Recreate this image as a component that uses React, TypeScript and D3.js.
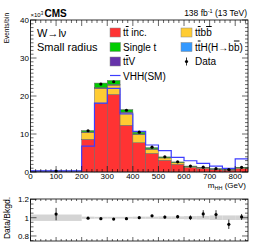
import React from 'react';
import * as d3 from 'd3';

// m_HH bin edges (GeV)
const binEdges = [0, 200, 250, 300, 350, 400, 450, 500, 550, 600, 650, 700, 750, 800, 850];
// Background contributions (x10^3 events / bin)
const ttInc = [0.17, 8.6, 18.1, 20.4, 12.3, 7.7, 4.9, 3.1, 2.05, 1.2, 0.9, 0.62, 0.5, 0.9];
const ttbb = [0.04, 1.85, 3.9, 2.45, 3.3, 2.2, 1.1, 0.6, 0.4, 0.22, 0.18, 0.13, 0.1, 0.18];
const ttV = [0.01, 0.06, 0.12, 0.12, 0.1, 0.08, 0.06, 0.04, 0.03, 0.02, 0.02, 0.02, 0.02, 0.02];
const ttH = [0.01, 0.04, 0.08, 0.08, 0.07, 0.05, 0.04, 0.03, 0.02, 0.02, 0.01, 0.01, 0.01, 0.02];
const singleT = [0.02, 0.35, 1.2, 1.05, 0.65, 0.45, 0.3, 0.2, 0.15, 0.1, 0.1, 0.07, 0.06, 0.1];
// VHH(SM) signal (scaled), x10^3
const signalVHH = [0.3, 6.8, 18.1, 22.0, 15.3, 10.7, 7.1, 5.6, 3.85, 2.96, 2.28, 1.57, 0.97, 3.48];
// Data (x10^3) and its uncertainty
const dataVals = [0.26, 10.85, 23.15, 23.75, 16.25, 10.48, 6.53, 4.0, 2.68, 1.56, 1.26, 0.88, 0.64, 1.23];
const dataErr = [0.017, 0.1, 0.15, 0.15, 0.13, 0.1, 0.08, 0.065, 0.05, 0.04, 0.05, 0.04, 0.035, 0.04];
// relative background uncertainty (ratio band)
const bkgRelUnc = [0.035, 0.012, 0.01, 0.01, 0.01, 0.012, 0.012, 0.015, 0.015, 0.018, 0.02, 0.025, 0.025, 0.025];

const xTicks = [0, 100, 200, 300, 400, 500, 600, 700, 800];
const yTicks = [0, 10, 20, 30, 40];
const ratioTicks = [0.8, 1, 1.2];

const keys = ['ttInc', 'ttbb', 'ttV', 'ttH', 'singleT'];
const colors: Record<string, string> = {
  ttInc: '#ff3333',
  ttbb: '#ffcc33',
  ttV: '#6633aa',
  ttH: '#3399ff',
  singleT: '#00cc00',
};
const sigColor = '#3d3dff';
const FONT = '"Liberation Sans", Arial, Helvetica, sans-serif';

export default function App() {
  const W = 258, H = 243;
  const L = 30.5, R = 248, T = 20, B = 172;
  const rT = 199, rB = 241;
  const x = d3.scaleLinear().domain([0, 850]).range([L, R]);
  const y = d3.scaleLinear().domain([0, 40]).range([B, T]);
  const yr = d3.scaleLinear().domain([0.745, 1.205]).range([rB, rT]);

  const rows = binEdges.slice(0, -1).map((_, i) => ({
    ttInc: ttInc[i], ttbb: ttbb[i], ttV: ttV[i], ttH: ttH[i], singleT: singleT[i],
  }));
  const stacked = d3.stack<any>().keys(keys)(rows);
  const totals = rows.map((r) => keys.reduce((s, k) => s + (r as any)[k], 0));

  const sigPts: [number, number][] = signalVHH.map((v, i) => [binEdges[i], v]);
  sigPts.push([binEdges[binEdges.length - 1], signalVHH[signalVHH.length - 1]]);
  const sigLine = d3.line<[number, number]>()
    .x((d) => x(d[0]))
    .y((d) => y(d[1]))
    .curve(d3.curveStepAfter)(sigPts) as string;

  const centers = binEdges.slice(0, -1).map((e, i) => (e + binEdges[i + 1]) / 2);

  // ticks
  const xMinor = d3.range(0, 851, 20);
  const yMinor = d3.range(0, 40.01, 1);
  const rMinor = d3.range(0.75, 1.2001, 0.05);

  const tickLines: JSX.Element[] = [];
  xMinor.forEach((v, i) => {
    const major = v % 100 === 0;
    const len = major ? 6 : 3;
    tickLines.push(<line key={'xb' + i} x1={x(v)} x2={x(v)} y1={B} y2={B - len} />);
    tickLines.push(<line key={'xt' + i} x1={x(v)} x2={x(v)} y1={T} y2={T + len} />);
    tickLines.push(<line key={'rxb' + i} x1={x(v)} x2={x(v)} y1={rB} y2={rB - (major ? 4 : 2)} />);
    tickLines.push(<line key={'rxt' + i} x1={x(v)} x2={x(v)} y1={rT} y2={rT + (major ? 4 : 2)} />);
  });
  yMinor.forEach((v, i) => {
    const major = Math.abs(v % 10) < 1e-6;
    const len = major ? 6 : 3;
    tickLines.push(<line key={'yl' + i} x1={L} x2={L + len} y1={y(v)} y2={y(v)} />);
    tickLines.push(<line key={'yr' + i} x1={R} x2={R - len} y1={y(v)} y2={y(v)} />);
  });
  rMinor.forEach((v, i) => {
    const major = ratioTicks.some((t) => Math.abs(t - v) < 1e-6);
    const len = major ? 6 : 3;
    tickLines.push(<line key={'ryl' + i} x1={L} x2={L + len} y1={yr(v)} y2={yr(v)} />);
    tickLines.push(<line key={'ryr' + i} x1={R} x2={R - len} y1={yr(v)} y2={yr(v)} />);
  });

  const legendRows = [32.5, 47, 61.5, 76];

  return (
    <svg width={W} height={H} style={{ position: 'absolute', left: 0, top: 0, background: '#fff' }}
      fontFamily={FONT}>
      {/* stacked backgrounds */}
      {stacked.map((s) => (
        <g key={s.key}>
          {s.map((d, i) => (
            <rect key={i} x={x(binEdges[i])} width={x(binEdges[i + 1]) - x(binEdges[i])}
              y={y(d[1])} height={Math.max(0, y(d[0]) - y(d[1]))}
              fill={colors[s.key]} stroke="#666" strokeWidth={0.5} />
          ))}
        </g>
      ))}
      {/* signal */}
      <path d={sigLine} fill="none" stroke={sigColor} strokeWidth={1.2} />
      {/* data */}
      {centers.map((c, i) => (
        <g key={'d' + i}>
          <line x1={x(c)} x2={x(c)} y1={y(dataVals[i] - dataErr[i])} y2={y(dataVals[i] + dataErr[i])}
            stroke="#000" strokeWidth={0.8} />
          <circle cx={x(c)} cy={y(dataVals[i])} r={1.6} fill="#000" />
        </g>
      ))}
      {/* main frame */}
      <rect x={L} y={T} width={R - L} height={B - T} fill="none" stroke="#000" strokeWidth={0.8} />

      {/* ratio panel */}
      {centers.map((c, i) => (
        <rect key={'u' + i} x={x(binEdges[i])} width={x(binEdges[i + 1]) - x(binEdges[i])}
          y={yr(1 + bkgRelUnc[i])} height={yr(1 - bkgRelUnc[i]) - yr(1 + bkgRelUnc[i])}
          fill="#d4d4d4" />
      ))}
      {centers.map((c, i) => {
        const r = dataVals[i] / totals[i];
        const e = dataErr[i] / totals[i];
        return (
          <g key={'r' + i}>
            <line x1={x(c)} x2={x(c)} y1={yr(r - e)} y2={yr(r + e)} stroke="#000" strokeWidth={0.8} />
            <circle cx={x(c)} cy={yr(r)} r={1.6} fill="#000" />
          </g>
        );
      })}
      <rect x={L} y={rT} width={R - L} height={rB - rT} fill="none" stroke="#000" strokeWidth={0.8} />

      <g stroke="#000" strokeWidth={0.6}>{tickLines}</g>

      {/* tick labels */}
      <g fontSize={8} fill="#000">
        {xTicks.map((v) => (
          <text key={'xl' + v} x={x(v)} y={179} textAnchor="middle">{v}</text>
        ))}
        {yTicks.map((v) => (
          <text key={'yl' + v} x={L - 1.5} y={y(v) + 3} textAnchor="end">{v}</text>
        ))}
        {ratioTicks.map((v) => (
          <text key={'rl' + v} x={L - 1.5} y={yr(v) + 3} textAnchor="end">{v === 1 ? '1' : v.toFixed(1)}</text>
        ))}
      </g>
      {/* axis titles */}
      <text x={246} y={188} fontSize={8} textAnchor="end">
        m<tspan fontSize={5.5} dy={1.5}>HH</tspan><tspan dy={-1.5}> (GeV)</tspan>
      </text>
      <text transform="translate(9,13) rotate(-90)" fontSize={6.5} textAnchor="end">Events/bin</text>
      <text transform="translate(10,218) rotate(-90)" fontSize={8.5} textAnchor="middle">Data/Bkgd.</text>
      <text x={30.5} y={17} fontSize={6}>×10<tspan fontSize={4.5} dy={-2.5}>3</tspan></text>
      <text x={44.5} y={16.5} fontSize={10} fontWeight="bold">CMS</text>
      <text x={247} y={16} fontSize={8.5} textAnchor="end">
        138 fb<tspan fontSize={5.5} dy={-3}>-1</tspan><tspan dy={3}> (13 TeV)</tspan>
      </text>

      {/* category text */}
      <text x={37} y={legendRows[0] + 4} fontSize={11}>W→lν</text>
      <text x={37} y={legendRows[1] + 4} fontSize={11}>Small radius</text>

      {/* legend */}
      <g fontSize={10}>
        <rect x={110} y={legendRows[0] - 4.5} width={10.5} height={9} fill={colors.ttInc} stroke="#888" strokeWidth={0.5} />
        <text x={123} y={legendRows[0] + 3.5}>t<tspan textDecoration="overline">t</tspan> inc.</text>
        <rect x={110} y={legendRows[1] - 4.5} width={10.5} height={9} fill={colors.singleT} stroke="#888" strokeWidth={0.5} />
        <text x={123} y={legendRows[1] + 3.5}>Single t</text>
        <rect x={110} y={legendRows[2] - 4.5} width={10.5} height={9} fill={colors.ttV} stroke="#888" strokeWidth={0.5} />
        <text x={123} y={legendRows[2] + 3.5}>t<tspan textDecoration="overline">t</tspan>V</text>
        <line x1={110} x2={120.5} y1={legendRows[3] - 0.5} y2={legendRows[3] - 0.5} stroke={sigColor} strokeWidth={1.2} />
        <text x={123} y={legendRows[3] + 3.5}>VHH(SM)</text>

        <rect x={181} y={legendRows[0] - 4.5} width={11} height={9} fill={colors.ttbb} stroke="#888" strokeWidth={0.5} />
        <text x={195} y={legendRows[0] + 3.5}>t<tspan textDecoration="overline">t</tspan>b<tspan textDecoration="overline">b</tspan></text>
        <rect x={181} y={legendRows[1] - 4.5} width={11} height={9} fill={colors.ttH} stroke="#888" strokeWidth={0.5} />
        <text x={195} y={legendRows[1] + 3.5}>t<tspan textDecoration="overline">t</tspan>H(H→b<tspan textDecoration="overline">b</tspan>)</text>
        <line x1={186.5} x2={186.5} y1={legendRows[2] - 4} y2={legendRows[2] + 4} stroke="#000" strokeWidth={0.8} />
        <circle cx={186.5} cy={legendRows[2]} r={1.6} fill="#000" />
        <text x={195} y={legendRows[2] + 3.5}>Data</text>
      </g>
    </svg>
  );
}
